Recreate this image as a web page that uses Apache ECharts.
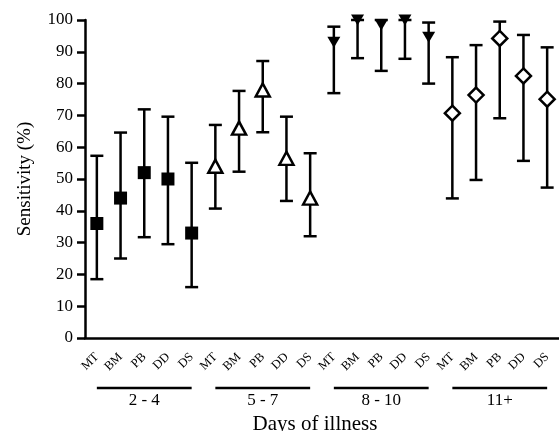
<!DOCTYPE html>
<html>
<head>
<meta charset="utf-8">
<script src="https://cdn.jsdelivr.net/npm/echarts@6/dist/echarts.min.js"></script>
<style>
  html, body { margin: 0; padding: 0; background: #fff; }
  #chart { width: 559px; height: 431px; }
</style>
</head>
<body>
<div id="chart"></div>
<script>
// tests and day groups
const methods = ["MT", "BM", "PB", "DD", "DS"];
const dayGroups = ["2 - 4", "5 - 7", "8 - 10", "11+"];

// sensitivity (%) per group, order MT BM PB DD DS
const sens2to4 = [36, 44, 52, 50, 33];
const low2to4 = [18.5, 25, 31.7, 29.5, 16];
const high2to4 = [57.3, 64.6, 71.9, 69.6, 55.1];

const sens5to7 = [54, 66, 78, 56.5, 44];
const low5to7 = [40.7, 52.3, 64.7, 43.1, 32];
const high5to7 = [67, 77.7, 87.1, 69.6, 58.1];

const sens8to10 = [93, 100, 98.4, 100, 94.6];
const low8to10 = [77, 88, 84, 87.8, 80];
const high8to10 = [97.9, 100, 100, 100, 99.2];

const sens11 = [70.7, 76.4, 94.2, 82.4, 75.1];
const low11 = [43.9, 49.7, 69.1, 55.7, 47.3];
const high11 = [88.3, 92.1, 99.5, 95.3, 91.4];

const yTicks = [0, 10, 20, 30, 40, 50, 60, 70, 80, 90, 100];

const font = "Liberation Serif";
const categories = [];
dayGroups.forEach(() => methods.forEach((m) => categories.push(m)));

const sens = [sens2to4, sens5to7, sens8to10, sens11];
const lows = [low2to4, low5to7, low8to10, low11];
const highs = [high2to4, high5to7, high8to10, high11];

const errData = [];
sens.forEach((g, gi) => {
  g.forEach((v, i) => {
    errData.push([gi * methods.length + i, lows[gi][i], highs[gi][i]]);
  });
});
const pointsOf = (gi) => sens[gi].map((v, i) => [gi * methods.length + i, v]);
const spans = dayGroups.map((g, gi) => [gi * methods.length, gi * methods.length + methods.length - 1]);

const chart = echarts.init(document.getElementById("chart"));
chart.setOption({
  animation: false,
  backgroundColor: "#fff",
  grid: { left: 85, right: 0, top: 20, bottom: 93, outerBoundsMode: "none", containLabel: false },
  xAxis: [
    {
      type: "category",
      data: categories,
      axisLine: { lineStyle: { color: "#000", width: 2.5 } },
      axisTick: { alignWithLabel: true, interval: 0, length: 8, lineStyle: { color: "#000", width: 2.5 } },
      axisLabel: { rotate: 45, interval: 0, hideOverlap: false, color: "#000", fontFamily: font, fontSize: 12.5, margin: 17 },
      splitLine: { show: false },
    },
    {
      type: "category",
      data: dayGroups,
      position: "bottom",
      offset: 50,
      axisLine: { show: false },
      axisTick: { show: false },
      axisLabel: { color: "#000", fontFamily: font, fontSize: 17, margin: 4 },
      name: "Days of illness",
      nameLocation: "middle",
      nameGap: 24,
      nameTextStyle: { color: "#000", fontFamily: font, fontSize: 21, padding: [0, 14, 0, 0] },
    },
  ],
  yAxis: {
    type: "value",
    min: 0,
    max: 100,
    interval: 10,
    axisLine: { show: true, lineStyle: { color: "#000", width: 2.5 } },
    axisTick: { show: true, length: 8, lineStyle: { color: "#000", width: 2.5 } },
    axisLabel: {
      color: "#000", fontFamily: font, fontSize: 17, margin: 12,
      formatter: (v) => (yTicks.indexOf(v) >= 0 ? String(v) : ""),
    },
    splitLine: { show: false },
    name: "Sensitivity (%)",
    nameLocation: "middle",
    nameGap: 50,
    nameTextStyle: { color: "#000", fontFamily: font, fontSize: 19 },
  },
  series: [
    {
      type: "custom",
      clip: false,
      data: errData,
      z: 1,
      renderItem: (params, api) => {
        const lo = api.coord([api.value(0), api.value(1)]);
        const hi = api.coord([api.value(0), api.value(2)]);
        const w = 6.5;
        const st = { stroke: "#000", lineWidth: 2.5 };
        return {
          type: "group",
          children: [
            { type: "line", shape: { x1: lo[0], y1: lo[1], x2: hi[0], y2: hi[1] }, style: st },
            { type: "line", shape: { x1: lo[0] - w, y1: lo[1], x2: lo[0] + w, y2: lo[1] }, style: st },
            { type: "line", shape: { x1: hi[0] - w, y1: hi[1], x2: hi[0] + w, y2: hi[1] }, style: st },
          ],
        };
      },
    },
    {
      type: "custom",
      clip: false,
      data: spans,
      renderItem: (params, api) => {
        const a = api.coord([api.value(0), 0]);
        const b = api.coord([api.value(1), 0]);
        return {
          type: "line",
          shape: { x1: a[0], y1: a[1] + 50, x2: b[0], y2: b[1] + 50 },
          style: { stroke: "#000", lineWidth: 2.5 },
        };
      },
    },
    {
      type: "scatter", clip: false, z: 3, data: pointsOf(0),
      symbol: "rect", symbolSize: 13,
      itemStyle: { color: "#000", opacity: 1 },
    },
    {
      type: "scatter", clip: false, z: 3, data: pointsOf(1),
      symbol: "triangle", symbolSize: [14, 13],
      itemStyle: { color: "#fff", borderColor: "#000", borderWidth: 2.5, opacity: 1 },
    },
    {
      type: "scatter", clip: false, z: 3, data: pointsOf(2),
      symbol: "triangle", symbolRotate: 180, symbolSize: [13, 11],
      itemStyle: { color: "#000", opacity: 1 },
    },
    {
      type: "scatter", clip: false, z: 3, data: pointsOf(3),
      symbol: "diamond", symbolSize: [15, 15],
      itemStyle: { color: "#fff", borderColor: "#000", borderWidth: 2.5, opacity: 1 },
    },
  ],
});
</script>
</body>
</html>
